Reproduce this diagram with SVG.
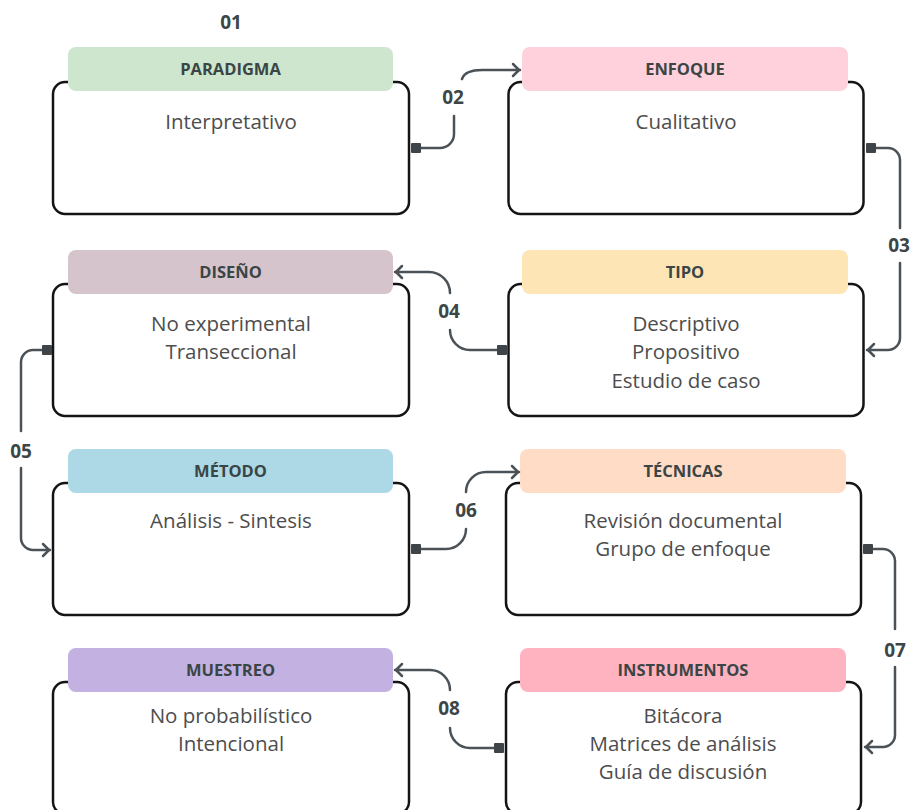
<svg xmlns="http://www.w3.org/2000/svg" width="913" height="810" viewBox="0 0 913 810">
<style>
.box{fill:#fff;stroke:#141414;stroke-width:2.5}
.hd{stroke:none}
.ht{font-family:"Open Sans","Liberation Sans",sans-serif;font-weight:700;font-size:16.5px;fill:#3a4545;text-anchor:middle}
.bt{font-family:"Open Sans","Liberation Sans",sans-serif;font-size:20.5px;fill:#4d4d4d;text-anchor:middle}
.num{font-family:"Open Sans","Liberation Sans",sans-serif;font-weight:700;font-size:19px;fill:#3d4646;text-anchor:middle}
.cn{fill:none;stroke:#4b5257;stroke-width:2.5;stroke-linecap:round}
.sq{fill:#3e4448}
</style>
<defs>
<marker id="ar" markerUnits="userSpaceOnUse" markerWidth="16" markerHeight="16" refX="1" refY="0" viewBox="-10 -8 14 16" orient="auto" overflow="visible">
<path d="M-6,-6 L0,0 L-6,6" fill="none" stroke="#4b5257" stroke-width="2.5" stroke-linecap="round" stroke-linejoin="round"/>
</marker>
</defs>
<text class="num" x="231" y="29">01</text>
<g id="paradigma">
<rect class="box" x="53" y="82" width="356" height="132" rx="12"/>
<rect class="hd" x="68" y="47" width="325" height="44" rx="8" fill="#cde6cd"/>
<text class="ht" x="230.5" y="75">PARADIGMA</text>
<text class="bt" x="231" y="129">Interpretativo</text>
</g>
<g id="enfoque">
<rect class="box" x="508.5" y="82" width="355" height="132" rx="12"/>
<rect class="hd" x="522" y="47" width="326" height="44" rx="8" fill="#ffd1dc"/>
<text class="ht" x="685" y="75">ENFOQUE</text>
<text class="bt" x="686" y="129">Cualitativo</text>
</g>
<g id="diseno">
<rect class="box" x="53" y="284" width="356" height="132" rx="12"/>
<rect class="hd" x="68" y="250" width="325" height="44" rx="8" fill="#d6c4cd"/>
<text class="ht" x="230.5" y="278">DISEÑO</text>
<text class="bt" x="231" y="331">No experimental</text>
<text class="bt" x="231" y="359">Transeccional</text>
</g>
<g id="tipo">
<rect class="box" x="508.5" y="284" width="355" height="132" rx="12"/>
<rect class="hd" x="522" y="250" width="326" height="44" rx="8" fill="#fde5b5"/>
<text class="ht" x="685" y="278">TIPO</text>
<text class="bt" x="686" y="331">Descriptivo</text>
<text class="bt" x="686" y="359">Propositivo</text>
<text class="bt" x="686" y="388">Estudio de caso</text>
</g>
<g id="metodo">
<rect class="box" x="53" y="483" width="356" height="132" rx="12"/>
<rect class="hd" x="68" y="449" width="325" height="44" rx="8" fill="#add8e6"/>
<text class="ht" x="230.5" y="477">MÉTODO</text>
<text class="bt" x="231" y="528">Análisis - Sintesis</text>
</g>
<g id="tecnicas">
<rect class="box" x="506" y="483" width="355" height="132" rx="12"/>
<rect class="hd" x="520" y="449" width="326" height="44" rx="8" fill="#ffdcc5"/>
<text class="ht" x="683" y="477">TÉCNICAS</text>
<text class="bt" x="683" y="528">Revisión documental</text>
<text class="bt" x="683" y="556">Grupo de enfoque</text>
</g>
<g id="muestreo">
<rect class="box" x="53" y="682" width="356" height="132" rx="12"/>
<rect class="hd" x="68" y="648" width="325" height="44" rx="8" fill="#c3b1e1"/>
<text class="ht" x="230.5" y="676">MUESTREO</text>
<text class="bt" x="231" y="723">No probabilístico</text>
<text class="bt" x="231" y="751">Intencional</text>
</g>
<g id="instrumentos">
<rect class="box" x="506" y="682" width="355" height="132" rx="12"/>
<rect class="hd" x="520" y="648" width="326" height="44" rx="8" fill="#ffb3c0"/>
<text class="ht" x="683" y="676">INSTRUMENTOS</text>
<text class="bt" x="683" y="723">Bitácora</text>
<text class="bt" x="683" y="751">Matrices de análisis</text>
<text class="bt" x="683" y="779">Guía de discusión</text>
</g>
<g id="connectors">
<path class="cn" d="M421,148 H440 A14,14 0 0 0 454,134 V116"/>
<path class="cn" d="M462,79 Q465,70 482,70 H520" marker-end="url(#ar)"/>
<rect class="sq" x="411" y="143" width="10" height="10" rx="1"/>
<text class="num" x="453" y="104">02</text>
<path class="cn" d="M876,148 H888 A12,12 0 0 1 900,160 V228"/>
<path class="cn" d="M900,263 V338 A12,12 0 0 1 888,350 H867" marker-end="url(#ar)"/>
<rect class="sq" x="866" y="143" width="10" height="10" rx="1"/>
<text class="num" x="899" y="252">03</text>
<path class="cn" d="M497,350 H470 A20,20 0 0 1 450,330"/>
<path class="cn" d="M450,293 A21,21 0 0 0 429,272 H395" marker-end="url(#ar)"/>
<rect class="sq" x="497" y="345" width="10" height="10" rx="1"/>
<text class="num" x="449" y="318">04</text>
<path class="cn" d="M42,350 H33 A12,12 0 0 0 21,362 V431"/>
<path class="cn" d="M21,468 V538 A12,12 0 0 0 33,550 H50" marker-end="url(#ar)"/>
<rect class="sq" x="42" y="345" width="10" height="10" rx="1"/>
<text class="num" x="21" y="458">05</text>
<path class="cn" d="M421,549 H446 A20,20 0 0 0 466,529"/>
<path class="cn" d="M466,492 A20,20 0 0 1 486,472 H519" marker-end="url(#ar)"/>
<rect class="sq" x="411" y="544" width="10" height="10" rx="1"/>
<text class="num" x="466" y="517">06</text>
<path class="cn" d="M873,549 H883 A12,12 0 0 1 895,561 V629"/>
<path class="cn" d="M895,667 V735 A12,12 0 0 1 883,747 H865" marker-end="url(#ar)"/>
<rect class="sq" x="863" y="544" width="10" height="10" rx="1"/>
<text class="num" x="895" y="657">07</text>
<path class="cn" d="M495,748 H470 A20,20 0 0 1 450,728"/>
<path class="cn" d="M450,690 A20,20 0 0 0 430,670 H395" marker-end="url(#ar)"/>
<rect class="sq" x="494" y="743" width="10" height="10" rx="1"/>
<text class="num" x="449" y="715">08</text>
</g>
</svg>
